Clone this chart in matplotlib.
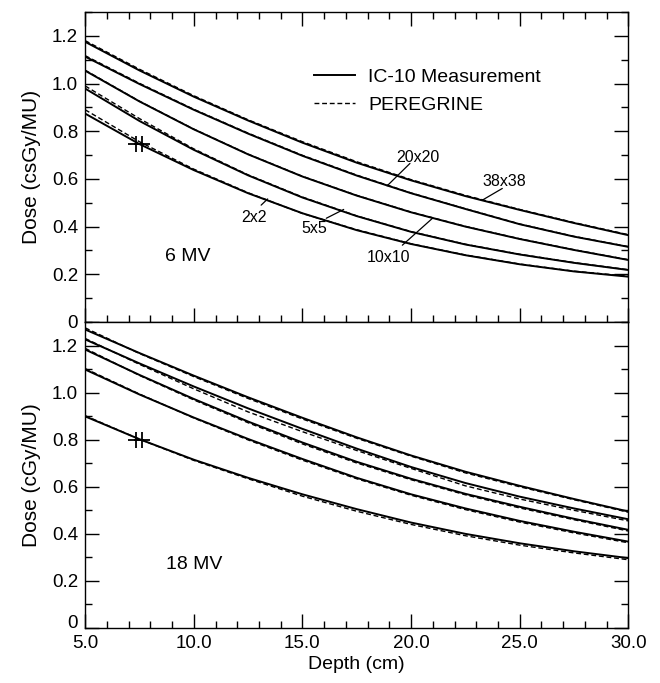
import matplotlib
matplotlib.use("Agg")
import matplotlib.pyplot as plt
from matplotlib.ticker import MultipleLocator, FixedLocator, FixedFormatter

plt.rcParams['font.family'] = ['Liberation Sans', 'DejaVu Sans']

# depth points (cm)
depth = [5.0, 7.5, 10.0, 12.5, 15.0, 17.5, 20.0, 22.5, 25.0, 27.5, 30.0]
fields = ['38x38', '20x20', '10x10', '5x5', '2x2']

# 6 MV, IC-10 measurement (solid)
meas_6 = [
    [1.175, 1.055, 0.945, 0.845, 0.752, 0.668, 0.594, 0.528, 0.470, 0.415, 0.364],
    [1.113, 0.998, 0.890, 0.790, 0.697, 0.614, 0.540, 0.474, 0.410, 0.358, 0.315],
    [1.054, 0.925, 0.808, 0.703, 0.610, 0.530, 0.460, 0.400, 0.348, 0.302, 0.260],
    [0.979, 0.843, 0.722, 0.615, 0.522, 0.444, 0.378, 0.325, 0.283, 0.248, 0.218],
    [0.874, 0.746, 0.637, 0.540, 0.456, 0.385, 0.327, 0.280, 0.242, 0.212, 0.190],
]
# 6 MV, PEREGRINE (dashed)
pere_6 = [
    [1.180, 1.060, 0.949, 0.848, 0.756, 0.672, 0.597, 0.531, 0.472, 0.417, 0.366],
    [1.117, 1.001, 0.892, 0.792, 0.699, 0.616, 0.541, 0.475, 0.411, 0.359, 0.316],
    [1.056, 0.926, 0.809, 0.704, 0.611, 0.531, 0.461, 0.401, 0.349, 0.303, 0.261],
    [0.990, 0.853, 0.726, 0.617, 0.524, 0.445, 0.379, 0.326, 0.284, 0.249, 0.219],
    [0.890, 0.756, 0.641, 0.542, 0.455, 0.387, 0.328, 0.281, 0.243, 0.213, 0.192],
]

# 18 MV, IC-10 measurement (solid)
meas_18 = [
    [1.268, 1.168, 1.072, 0.980, 0.893, 0.810, 0.733, 0.664, 0.604, 0.548, 0.495],
    [1.226, 1.124, 1.026, 0.933, 0.846, 0.762, 0.684, 0.616, 0.558, 0.508, 0.462],
    [1.183, 1.075, 0.973, 0.877, 0.788, 0.706, 0.634, 0.570, 0.515, 0.464, 0.417],
    [1.098, 0.992, 0.894, 0.803, 0.718, 0.638, 0.568, 0.508, 0.455, 0.409, 0.367],
    [0.899, 0.802, 0.715, 0.638, 0.568, 0.505, 0.448, 0.400, 0.360, 0.326, 0.297],
]
# 18 MV, PEREGRINE (dashed)
pere_18 = [
    [1.275, 1.166, 1.068, 0.975, 0.888, 0.806, 0.730, 0.659, 0.600, 0.545, 0.492],
    [1.230, 1.120, 1.016, 0.918, 0.834, 0.754, 0.678, 0.604, 0.548, 0.500, 0.455],
    [1.188, 1.073, 0.969, 0.872, 0.782, 0.701, 0.630, 0.566, 0.510, 0.460, 0.412],
    [1.102, 0.994, 0.892, 0.799, 0.713, 0.634, 0.564, 0.503, 0.450, 0.404, 0.362],
    [0.902, 0.802, 0.712, 0.634, 0.560, 0.496, 0.440, 0.392, 0.352, 0.319, 0.290],
]

# reference points (+ markers)
ref_depth = [7.35, 7.6]
ref_6 = [0.745, 0.745]
ref_18 = [0.80, 0.80]

# field size labels for 6 MV: (text pos, leader start, leader end)
label_pos = {
    '2x2': ((12.75, 0.44), (13.1, 0.49), (13.4, 0.516)),
    '5x5': ((15.55, 0.39), (16.1, 0.435), (16.9, 0.472)),
    '10x10': ((18.95, 0.27), (19.6, 0.322), (21.0, 0.436)),
    '20x20': ((20.3, 0.69), (19.95, 0.665), (18.9, 0.571)),
    '38x38': ((24.3, 0.588), (24.2, 0.56), (23.3, 0.512)),
}

fig = plt.figure(figsize=(6.6, 6.83), dpi=100)
ax1 = fig.add_axes([0.129, 0.5286, 0.823, 0.4538])
ax2 = fig.add_axes([0.129, 0.0805, 0.823, 0.4481])

for ax, meas, pere in [(ax1, meas_6, pere_6), (ax2, meas_18, pere_18)]:
    for i in range(len(fields)):
        ax.plot(depth, meas[i], color='black', lw=1.4,
                label='IC-10 Measurement' if i == 0 else None)
        ax.plot(depth, pere[i], color='black', lw=1.0, ls=(0, (3.5, 2)),
                label='PEREGRINE' if i == 0 else None)
    ax.set_xlim(5, 30)
    ax.set_ylim(0, 1.3)
    ax.xaxis.set_major_locator(MultipleLocator(5))
    ax.xaxis.set_minor_locator(MultipleLocator(1))
    ax.yaxis.set_major_locator(FixedLocator([0, 0.2, 0.4, 0.6, 0.8, 1.0, 1.2]))
    ax.yaxis.set_major_formatter(FixedFormatter(['0', '0.2', '0.4', '0.6', '0.8', '1.0', '1.2']))
    ax.yaxis.set_minor_locator(MultipleLocator(0.1))
    ax.tick_params(which='both', direction='in', right=True, width=1.0, labelsize=13.5)
    ax.tick_params(which='major', length=10, pad=5)
    ax.tick_params(which='minor', length=5)
    for s in ax.spines.values():
        s.set_linewidth(1.0)

ax1.tick_params(which='both', top=True, labelbottom=False)
ax2.tick_params(which='both', top=False)
ax2.set_xticks([5, 10, 15, 20, 25, 30])
ax2.set_xticklabels(['5.0', '10.0', '15.0', '20.0', '25.0', '30.0'])
# lift the bottom "0" so it clears the "5.0"
ax2.get_yticklabels()[0].set_verticalalignment('baseline')

ax1.plot(ref_depth, ref_6, ls='none', marker='+', ms=11, mew=1.3, color='black')
ax2.plot(ref_depth, ref_18, ls='none', marker='+', ms=11, mew=1.3, color='black')

for name in fields:
    txt, p0, p1 = label_pos[name]
    ax1.text(txt[0], txt[1], name, fontsize=11.5, ha='center', va='center')
    ax1.annotate('', xy=p1, xytext=p0,
                 arrowprops=dict(arrowstyle='-', color='black', lw=0.9,
                                 shrinkA=0, shrinkB=0))

ax1.text(9.7, 0.275, '6 MV', fontsize=14, ha='center', va='center')
ax2.text(10.0, 0.27, '18 MV', fontsize=14, ha='center', va='center')

ax1.set_ylabel('Dose (csGy/MU)', fontsize=15, labelpad=8)
ax2.set_ylabel('Dose (cGy/MU)', fontsize=15, labelpad=8)
ax2.set_xlabel('Depth (cm)', fontsize=14, labelpad=3)

ax1.legend(loc='upper left', bbox_to_anchor=(0.39, 0.875), frameon=False,
           fontsize=14, handlelength=2.1, handletextpad=0.65, labelspacing=0.55)

fig.savefig('out.png', dpi=100, facecolor='white')
